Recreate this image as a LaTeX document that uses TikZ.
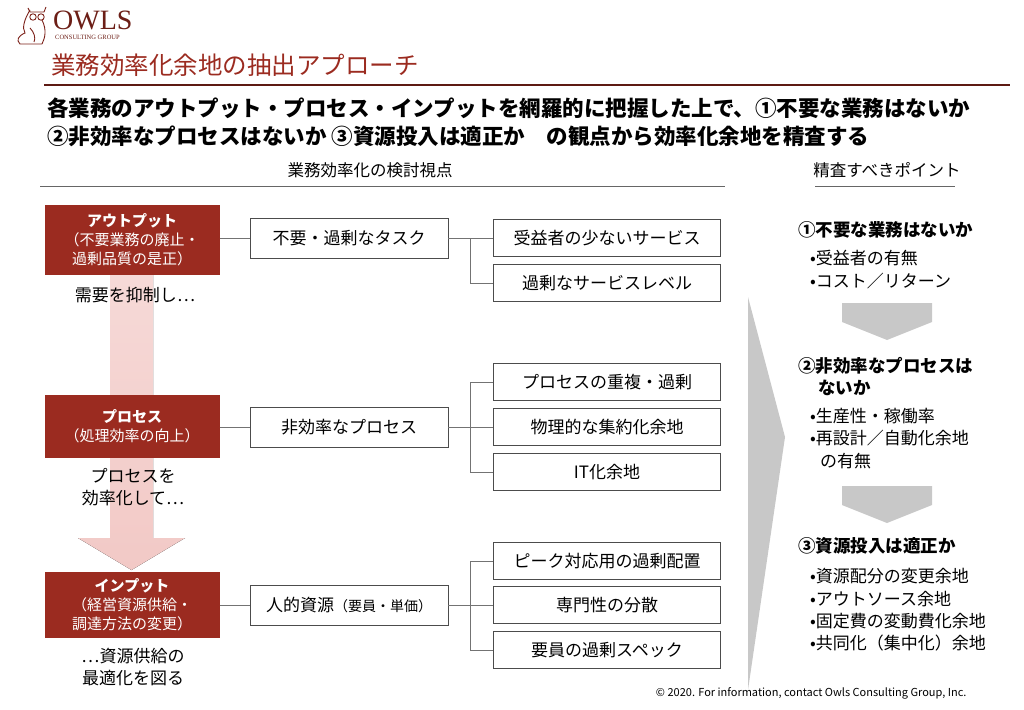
\documentclass[tikz,border=0pt]{standalone}
\usepackage{fontspec}
\setmainfont{Noto Sans CJK JP}
\newfontfamily\logofont{Liberation Serif}
\usetikzlibrary{calc, positioning}

\definecolor{owlred}{HTML}{9B2B20}
\definecolor{owlpink}{HTML}{F2C9C6}
\definecolor{owlgray}{HTML}{C8C8C8}

\begin{document}
\begin{tikzpicture}[x = {(1pt,0pt)},
                    y = {(0pt,-1pt)},
                    redbox/.style  = {fill=owlred, text=white, minimum width=175pt,
                                      align=center, inner sep=0pt, font=\fontsize{15}{19}\selectfont},
                    midbox/.style  = {draw=black!70, minimum width=198pt, minimum height=40pt,
                                      font=\fontsize{17}{18}\selectfont},
                    leafbox/.style = {draw=black!70, minimum width=227pt, minimum height=37pt,
                                      font=\fontsize{17}{18}\selectfont},
                    link/.style    = {draw=black!55, thick},
                    body/.style    = {font=\fontsize{17}{22}\selectfont, align=center},
                    point/.style   = {anchor=west, inner sep=0pt, font=\fontsize{17.5}{18}\selectfont\bfseries},
                    item/.style    = {anchor=west, inner sep=0pt, font=\fontsize{17}{18}\selectfont}]

    \useasboundingbox (0,0) rectangle (1024,709);

    % logo
    \begin{scope}[draw=owlred!80!black, line width=0.9pt]
        \draw (30,10) .. controls (24,20) and (22,28) .. (25,33) .. controls (18,36) and (16,40) .. (20,44) -- (42,44);
        \draw (28,8) -- (30,12) -- (44,12) -- (46,7);
        \draw (33,17) circle (3.2) (41,17) circle (3.2);
        \draw (42,20) .. controls (47,30) and (45,38) .. (42,44);
        \draw (30,28) .. controls (34,32) and (36,38) .. (34,42);
    \end{scope}
    \node[anchor=west, text=owlred!70!black, inner sep=0pt,
          font=\logofont\fontsize{28}{28}\selectfont] (logo) at (53,20) {OWLS};
    \node[anchor=west, text=owlred!70!black, inner sep=0pt,
          font=\logofont\fontsize{6.5}{6.5}\selectfont] (logosub) at (55,37) {CONSULTING GROUP};

    % title
    \node[anchor=west, text=owlred, inner sep=0pt, font=\fontsize{24.5}{25}\selectfont] (title) at (51,65)
        {業務効率化余地の抽出アプローチ};
    \draw[owlred!60!black, line width=1.6pt] (44,85) -- (1010,85);

    \node[anchor=west, inner sep=0pt, font=\fontsize{21.5}{22}\selectfont\bfseries] (lead1) at (47,108)
        {各業務のアウトプット・プロセス・インプットを網羅的に把握した上で、①不要な業務はないか};
    \node[anchor=west, inner sep=0pt, font=\fontsize{21.5}{22}\selectfont\bfseries] (lead2) at (47,136)
        {②非効率なプロセスはないか ③資源投入は適正か　の観点から効率化余地を精査する};

    % column headers
    \node[font=\fontsize{16.5}{17}\selectfont] (headL) at (370,170) {業務効率化の検討視点};
    \draw[black!60] (40,186) -- (725,186);
    \node[font=\fontsize{16.5}{17}\selectfont] (headR) at (887,170) {精査すべきポイント};
    \draw[black!60] (815,186) -- (955,186);

    % pink arrow
    \fill[top color=owlpink!70, bottom color=owlpink] (110,275) -- (153,275) -- (153,538) -- (185,538)
        -- (131.5,570) -- (78,538) -- (110,538) -- cycle;

    % red boxes
    \node[redbox, minimum height=70pt] (out) at (132,240)
        {\textbf{アウトプット}\\（不要業務の廃止・\\過剰品質の是正）};
    \node[redbox, minimum height=63pt] (proc) at (132,426)
        {\textbf{プロセス}\\（処理効率の向上）};
    \node[redbox, minimum height=66pt] (inp) at (132,605)
        {\textbf{インプット}\\（経営資源供給・\\調達方法の変更）};

    \node[body] (t1) at (135,295) {需要を抑制し…};
    \node[body] (t2) at (133,487) {プロセスを\\効率化して…};
    \node[body] (t3) at (133,667) {…資源供給の\\最適化を図る};

    % middle boxes
    \node[midbox] (m1) at (349,238) {不要・過剰なタスク};
    \node[midbox] (m2) at (349,427) {非効率なプロセス};
    \node[midbox] (m3) at (349,605) {人的資源{\fontsize{14}{14}\selectfont（要員・単価）}};

    % leaf boxes
    \node[leafbox] (l1) at (607,238) {受益者の少ないサービス};
    \node[leafbox] (l2) at (607,283) {過剰なサービスレベル};
    \node[leafbox] (l3) at (607,382) {プロセスの重複・過剰};
    \node[leafbox] (l4) at (607,427) {物理的な集約化余地};
    \node[leafbox] (l5) at (607,472) {IT化余地};
    \node[leafbox] (l6) at (607,561) {ピーク対応用の過剰配置};
    \node[leafbox] (l7) at (607,605) {専門性の分散};
    \node[leafbox] (l8) at (607,650) {要員の過剰スペック};

    % connectors
    \draw[link] (out.east |- m1) -- (m1.west);
    \draw[link] (proc.east |- m2) -- (m2.west);
    \draw[link] (inp.east) -- (m3.west);

    \coordinate (j1) at (470,238);
    \coordinate (j2) at (470,427);
    \coordinate (j3) at (470,605);
    \draw[link] (m1.east) -- (l1.west);
    \draw[link] (j1) |- (l2.west);
    \draw[link] (m2.east) -- (l4.west);
    \draw[link] (j2) |- (l3.west);
    \draw[link] (j2) |- (l5.west);
    \draw[link] (m3.east) -- (l7.west);
    \draw[link] (j3) |- (l6.west);
    \draw[link] (j3) |- (l8.west);

    % chevron
    \fill[owlgray] (748,297) -- (785,437) -- (748,690) -- cycle;

    % check points
    \node[point] (p1) at (798,230) {①不要な業務はないか};
    \node[item] (p1a) at (810,258) {•受益者の有無};
    \node[item] (p1b) at (810,281) {•コスト／リターン};
    \fill[owlgray] (842,303) -- (932,303) -- (932,322) -- (887,340) -- (842,322) -- cycle;

    \node[point] (p2) at (798,366) {②非効率なプロセスは};
    \node[point] (p2x) at (818,388) {ないか};
    \node[item] (p2a) at (810,416) {•生産性・稼働率};
    \node[item] (p2b) at (810,438) {•再設計／自動化余地};
    \node[item] (p2c) at (820,461) {の有無};
    \fill[owlgray] (842,486) -- (932,486) -- (932,505) -- (887,523) -- (842,505) -- cycle;

    \node[point] (p3) at (798,546) {③資源投入は適正か};
    \node[item] (p3a) at (810,576) {•資源配分の変更余地};
    \node[item] (p3b) at (810,599) {•アウトソース余地};
    \node[item] (p3c) at (810,621) {•固定費の変動費化余地};
    \node[item] (p3d) at (810,643) {•共同化（集中化）余地};

    \node[anchor=east, font=\fontsize{11}{11}\selectfont] (foot) at (970,693)
        {© 2020. For information, contact Owls Consulting Group, Inc.};

\end{tikzpicture}
\end{document}
